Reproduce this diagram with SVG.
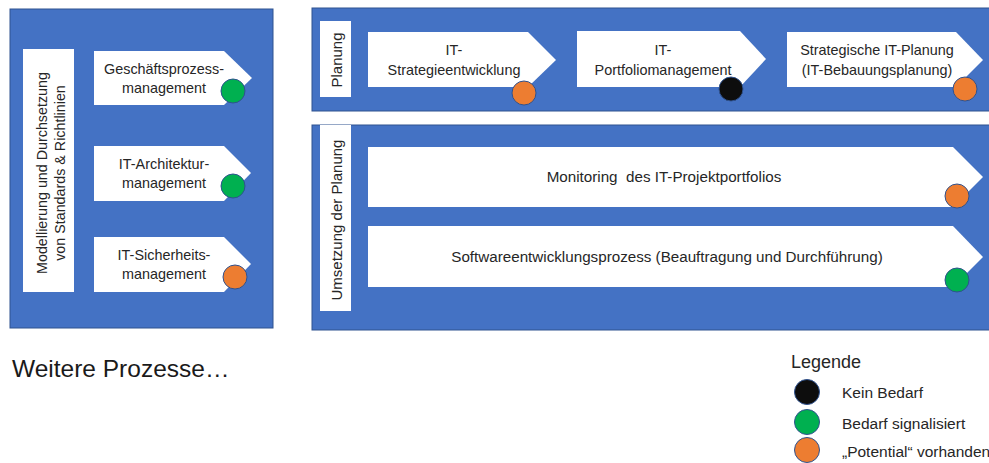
<svg xmlns="http://www.w3.org/2000/svg" width="989" height="463" viewBox="0 0 989 463">
<style>
.panel{fill:#4472C4;stroke:#2F528F;stroke-width:1}
.box{fill:#FFFFFF}
.t{font-family:"Liberation Sans",Arial,sans-serif;font-size:14.4px;fill:#262626;text-anchor:middle}
.w{font-size:15.2px}
.v{font-family:"Liberation Sans",Arial,sans-serif;font-size:14.3px;fill:#262626;text-anchor:middle}
.v15{font-size:15px}
.lg{font-family:"Liberation Sans",Arial,sans-serif;font-size:15.5px;fill:#262626}
.lh{font-size:18px}
.dot{stroke:#2F528F;stroke-width:1}
.g{fill:#00B050}.o{fill:#ED7D31}.k{fill:#0D0D0D}
</style>
<rect width="989" height="463" fill="#FFFFFF"/>

<g id="panel-left">
<rect class="panel" x="10" y="9" width="263" height="319"/>
<rect class="box" x="23" y="49" width="51" height="243"/>
<text class="v" transform="translate(47,173) rotate(-90)">Modellierung und Durchsetzung</text>
<text class="v" transform="translate(65,173) rotate(-90)">von Standards &amp; Richtlinien</text>
</g>
<g id="node-geschaeftsprozess">
<polygon class="box" points="94,51 224,51 252,78 224,105 94,105"/>
<text class="t" x="164" y="74">Geschäftsprozess-</text>
<text class="t" x="164" y="93">management</text>
<circle class="dot g" cx="233" cy="91" r="12"/>
</g>
<g id="node-itarchitektur">
<polygon class="box" points="94,146 224,146 251,173 224,201 94,201"/>
<text class="t" x="164" y="169">IT-Architektur-</text>
<text class="t" x="164" y="188">management</text>
<circle class="dot g" cx="233" cy="186" r="12"/>
</g>
<g id="node-itsicherheit">
<polygon class="box" points="94,237 224,237 251,264 224,292 94,292"/>
<text class="t" x="164" y="260">IT-Sicherheits-</text>
<text class="t" x="164" y="279">management</text>
<circle class="dot o" cx="235" cy="277" r="12"/>
</g>

<g id="panel-planung">
<rect class="panel" x="312" y="8" width="680" height="103"/>
<rect class="box" x="320" y="21" width="31" height="76"/>
<text class="v v15" transform="translate(342,60) rotate(-90)">Planung</text>
</g>
<g id="node-strategie">
<polygon class="box" points="368,32 528,32 556,60 528,87 368,87"/>
<text class="t" x="454" y="55">IT-</text>
<text class="t" x="454" y="75">Strategieentwicklung</text>
<circle class="dot o" cx="524" cy="93" r="12"/>
</g>
<g id="node-portfolio">
<polygon class="box" points="577,31 740,31 766,59 740,87 577,87"/>
<text class="t" x="663" y="55">IT-</text>
<text class="t" x="663" y="75">Portfoliomanagement</text>
<circle class="dot k" cx="731" cy="89" r="12"/>
</g>
<g id="node-bebauung">
<polygon class="box" points="787,32 956,32 983,60 956,87 787,87"/>
<text class="t" x="877" y="55">Strategische IT-Planung</text>
<text class="t" x="877" y="75">(IT-Bebauungsplanung)</text>
<circle class="dot o" cx="965" cy="89" r="12"/>
</g>

<g id="panel-umsetzung">
<rect class="panel" x="312" y="125" width="680" height="205"/>
<rect class="box" x="320" y="125" width="31" height="186"/>
<text class="v v15" transform="translate(342,220) rotate(-90)">Umsetzung der Planung</text>
</g>
<g id="node-monitoring">
<polygon class="box" points="368,147 953,147 983,177 953,207 368,207"/>
<text class="t w" x="664" y="182" xml:space="preserve">Monitoring  des IT-Projektportfolios</text>
<circle class="dot o" cx="957" cy="196" r="12"/>
</g>
<g id="node-software">
<polygon class="box" points="368,226 953,226 983,257 953,287 368,287"/>
<text class="t w" x="667" y="262">Softwareentwicklungsprozess (Beauftragung und Durchführung)</text>
<circle class="dot g" cx="957" cy="280" r="12"/>
</g>

<g id="connectors"></g>

<g id="weitere">
<text x="12" y="377" font-family="'Liberation Sans',Arial,sans-serif" font-size="24.5" fill="#1a1a1a">Weitere Prozesse…</text>
</g>

<g id="legend">
<text class="lg lh" x="791" y="368">Legende</text>
<circle class="dot k" cx="807" cy="392" r="12.5"/>
<text class="lg" x="842" y="398">Kein Bedarf</text>
<circle class="dot g" cx="807" cy="422" r="12.5"/>
<text class="lg" x="842" y="429">Bedarf signalisiert</text>
<circle class="dot o" cx="807" cy="450" r="12.5"/>
<text class="lg" x="842" y="457">„Potential“ vorhanden</text>
</g>
</svg>
